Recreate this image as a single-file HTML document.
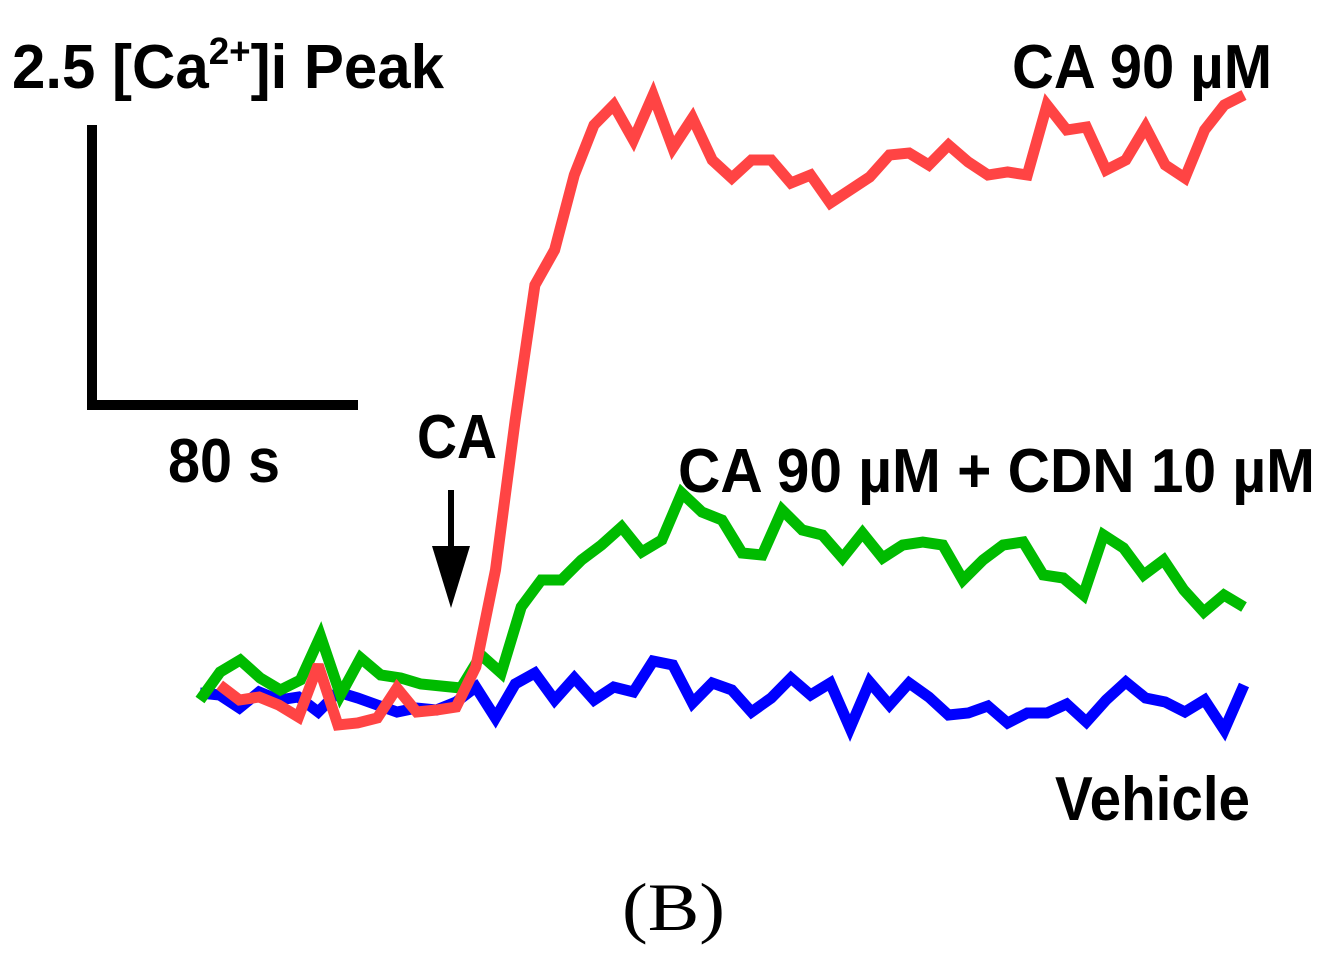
<!DOCTYPE html>
<html><head><meta charset="utf-8"><style>
html,body{margin:0;padding:0;background:#fff;}
svg{display:block;}
text{font-family:"Liberation Sans",sans-serif;font-weight:bold;fill:#000;}
</style></head><body>
<svg id="chart" width="1324" height="963" viewBox="0 0 1324 963" xmlns="http://www.w3.org/2000/svg">
<g>
<line x1="92" y1="125" x2="92" y2="410" stroke="#000" stroke-width="10"/>
<line x1="87" y1="405" x2="358" y2="405" stroke="#000" stroke-width="10"/>
</g>
<text x="12" y="88" font-size="62" textLength="432" lengthAdjust="spacingAndGlyphs">2.5 [Ca<tspan dy="-24" font-size="38">2+</tspan><tspan dy="24">]i Peak</tspan></text>
<text x="168" y="482" font-size="62" textLength="112" lengthAdjust="spacingAndGlyphs">80 s</text>
<text x="417" y="458" font-size="62" textLength="80" lengthAdjust="spacingAndGlyphs">CA</text>
<g>
<line x1="451" y1="490" x2="451" y2="555" stroke="#000" stroke-width="6"/>
<polygon points="432,546 470,546 451,608" fill="#000"/>
</g>
<text x="1012" y="88" font-size="62" textLength="260" lengthAdjust="spacingAndGlyphs">CA 90 µM</text>
<text x="678" y="492" font-size="62" textLength="637" lengthAdjust="spacingAndGlyphs">CA 90 µM + CDN 10 µM</text>
<text x="1055" y="820" font-size="62" textLength="195" lengthAdjust="spacingAndGlyphs">Vehicle</text>
<text x="622" y="930" font-size="68" style="font-family:'Liberation Serif',serif;font-weight:normal" textLength="103" lengthAdjust="spacingAndGlyphs">(B)</text>
<g id="series"></g>
</svg>
<script>
// values: change relative to baseline (1 unit = 1/112 of a ratio unit)
const vehicleValues=[7,5,-8,8,0,3,-12,8,2,-5,-12,-8,-10,-2,13,-18,16,27,0,22,0,13,8,39,35,-3,17,10,-12,2,22,5,17,-28,18,-5,17,3,-15,-13,-6,-23,-13,-13,-4,-22,0,18,2,-2,-12,0,-30,15];
const cdnValues=[0,28,40,22,10,20,64,5,42,25,22,16,14,12,45,27,93,120,120,140,155,173,148,160,207,188,180,147,145,190,170,165,142,167,142,155,158,155,120,140,155,158,125,122,105,165,152,125,140,110,88,105,93];
const ca90Values=[15,0,3,-5,-17,35,-25,-23,-18,12,-12,-10,-7,33,130,280,415,450,525,575,595,560,605,552,582,540,522,540,540,517,525,497,510,523,545,547,535,555,538,525,528,525,595,570,573,530,540,573,535,522,570,595,605];
const seriesNames=['vehicle','ca-90-cdn-10','ca-90'];
const seriesColors=['#0000ff','#00bb00','#ff4444'];
const seriesStarts=[0,0,1]; // starting sample index
const totalSamples=54;

function xScale(i){return 200+i*(1044/(totalSamples-1));}
function yScale(v){return 700-v;}

const g=document.getElementById('series');
const allValues=[vehicleValues,cdnValues,ca90Values];
allValues.forEach((vals,k)=>{
  const start=seriesStarts[k];
  const span=(totalSamples-1-start)/(vals.length-1);
  const pts=vals.map((v,i)=>xScale(start+i*span).toFixed(1)+','+yScale(v).toFixed(1)).join(' ');
  const pl=document.createElementNS('http://www.w3.org/2000/svg','polyline');
  pl.setAttribute('points',pts);
  pl.setAttribute('fill','none');
  pl.setAttribute('stroke',seriesColors[k]);
  pl.setAttribute('stroke-width','11');
  pl.setAttribute('stroke-linejoin','miter');
  pl.setAttribute('stroke-miterlimit','3');
  
  
  g.appendChild(pl);
});
</script>
</body></html>
